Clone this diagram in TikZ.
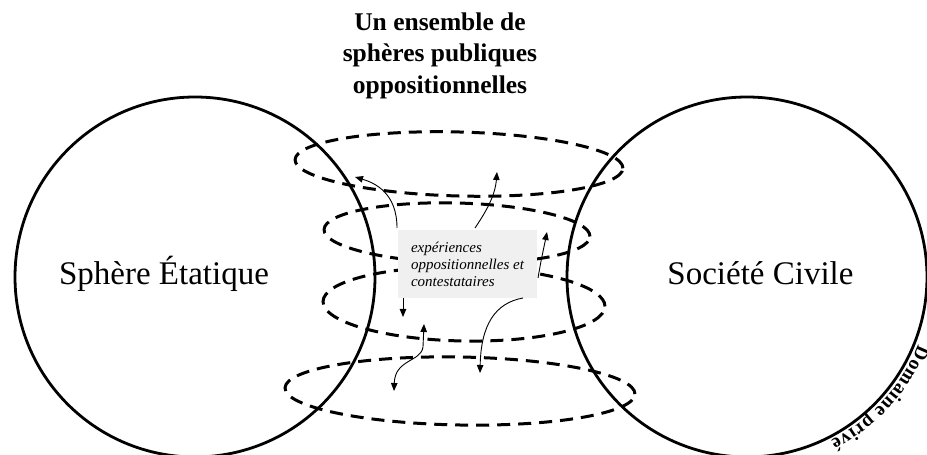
\documentclass[tikz,border=0pt]{standalone}
\usepackage{fontspec}
\setmainfont{Liberation Serif}
\usetikzlibrary{arrows.meta,decorations.text}
\definecolor{boxgray}{RGB}{240,240,240}
\begin{document}
\begin{tikzpicture}[x=1pt,y=1pt,
  ring/.style={circle, draw, line width=2.8pt, minimum size=360pt, inner sep=0pt},
  sphere/.style={line width=3pt, dash pattern=on 13pt off 8pt},
  flow/.style={line width=0.9pt, -{Triangle[length=8pt,width=6.5pt]}},
  bothflow/.style={line width=0.9pt, {Triangle[length=8pt,width=6.5pt]}-{Triangle[length=8pt,width=6.5pt]}},
  biglabel/.style={font=\fontsize{33}{38}\selectfont, anchor=base, inner sep=0pt},
  titleline/.style={font=\bfseries\fontsize{25.5}{31}\selectfont, anchor=base, inner sep=0pt},
  expbox/.style={fill=boxgray, minimum width=139pt, minimum height=68pt, align=left,
     font=\itshape\fontsize{15}{17}\selectfont}
]
\useasboundingbox (0,0) rectangle (927,455);
\clip (0,0) rectangle (927,455);

% circles
\node[ring] (etat) at (195,178) {};
\node[ring] (civ) at (747,178) {};
\node[biglabel] (etatlbl) at (164,170) {Sphère Étatique};
\node[biglabel] (civlbl) at (760.5,170) {Société Civile};

% title
\node[titleline] (t1) at (440,424.3) {Un ensemble de};
\node[titleline] (t2) at (440,393.3) {sphères publiques};
\node[titleline] (t3) at (440,361.7) {oppositionnelles};

% dashed public spheres
\draw[sphere, rotate around={-1.5:(459,291)}] (459,291) ellipse[x radius=164pt, y radius=32pt];
\draw[sphere, rotate around={-1.5:(457,222)}] (457,222) ellipse[x radius=133pt, y radius=30pt];
\draw[sphere, rotate around={-1:(464,151)}] (464,151) ellipse[x radius=141pt, y radius=37pt];
\draw[sphere, rotate around={-1:(460,64)}] (460,64) ellipse[x radius=175pt, y radius=34pt];

% central box
\node[expbox] (exp) at (467.5,191) {expériences\\oppositionnelles et\\contestataires};

% arrows
\coordinate (a1s) at (397,227);
\coordinate (a1e) at (355,278);
\coordinate (a2s) at (475,227);
\coordinate (a2e) at (497,283);
\coordinate (a3s) at (538,177);
\coordinate (a3e) at (547,223);
\coordinate (a4s) at (403,157);
\coordinate (a4e) at (403,138);
\coordinate (a5s) at (424,131);
\coordinate (a5m) at (423,108);
\coordinate (a5e) at (394,64);
\coordinate (a6s) at (523,157);
\coordinate (a6e) at (480,82);

\draw[flow] (a1s) .. controls (397,262) and (375,272) .. (a1e);
\draw[flow] (a2s) .. controls (485,242) and (495,258) .. (a2e);
\draw[flow] (a3s) .. controls (541,195) and (544,208) .. (a3e);
\draw[flow] (a4s) -- (a4e);
\draw[bothflow] (a5s) -- (a5m) .. controls (421,93) and (395,96) .. (a5e);
\draw[flow] (a6s) .. controls (495,152) and (481,130) .. (a6e);

% curved label
\path[decorate, decoration={text along path,
   text={|\bfseries\fontsize{19.5}{19.5}\selectfont|Domaine privé},
   text align={fit to path}}]
  (747,178) ++(-21.5:184pt) arc[start angle=-21.5, end angle=-63, radius=184pt];
\end{tikzpicture}
\end{document}
